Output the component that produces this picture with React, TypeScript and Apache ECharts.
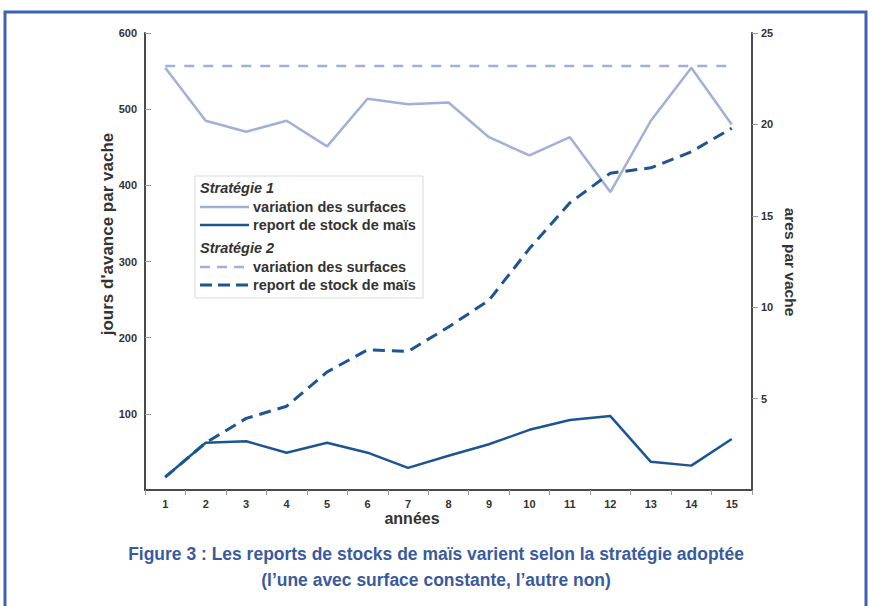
import React, { useEffect, useRef } from "react";
import * as echarts from "echarts";

const years = ["1", "2", "3", "4", "5", "6", "7", "8", "9", "10", "11", "12", "13", "14", "15"];
// ares par vache (right axis)
const strat1Surface = [23.1, 20.2, 19.6, 20.2, 18.8, 21.4, 21.1, 21.2, 19.3, 18.3, 19.3, 16.3, 20.2, 23.1, 20.0];
const strat2Surface = [23.2, 23.2, 23.2, 23.2, 23.2, 23.2, 23.2, 23.2, 23.2, 23.2, 23.2, 23.2, 23.2, 23.2, 23.2];
// jours d'avance par vache (left axis)
const strat1Stock = [17, 62, 64, 49, 62, 49, 29, 45, 60, 79, 92, 97, 37, 32, 67];
const strat2Stock = [17, 62, 94, 110, 155, 184, 182, 214, 249, 317, 377, 416, 423, 444, 475];

const LIGHT = "#a0b0d8";
const DARK = "#1d5592";
const AXIS = "#4a4a4a";
const TXT = "#333333";
const FONT = "'Liberation Sans', Arial, sans-serif";

export default function App() {
  const ref = useRef<HTMLDivElement>(null);
  useEffect(() => {
    document.body.style.margin = "0";
    const chart = echarts.init(ref.current!, undefined, { renderer: "svg" });
    const lf = `bold 14.5px ${FONT}`;
    const lfi = `italic bold 14.5px ${FONT}`;
    const legend = [
      { type: "rect", shape: { x: 195, y: 176, width: 228, height: 122 }, style: { fill: "#ffffff", stroke: "#d6d9e0", lineWidth: 1 }, z: 10 },
      { type: "text", x: 200, y: 188, style: { text: "Stratégie 1", font: lfi, fill: TXT, verticalAlign: "middle" }, z: 11 },
      { type: "line", shape: { x1: 200, y1: 207, x2: 249, y2: 207 }, style: { stroke: LIGHT, lineWidth: 2.5 }, z: 11 },
      { type: "text", x: 253, y: 207, style: { text: "variation des surfaces", font: lf, fill: TXT, verticalAlign: "middle" }, z: 11 },
      { type: "line", shape: { x1: 200, y1: 225, x2: 249, y2: 225 }, style: { stroke: DARK, lineWidth: 2.5 }, z: 11 },
      { type: "text", x: 253, y: 225, style: { text: "report de stock de maïs", font: lf, fill: TXT, verticalAlign: "middle" }, z: 11 },
      { type: "text", x: 200, y: 248, style: { text: "Stratégie 2", font: lfi, fill: TXT, verticalAlign: "middle" }, z: 11 },
      { type: "line", shape: { x1: 200, y1: 267, x2: 249, y2: 267 }, style: { stroke: LIGHT, lineWidth: 2.5, lineDash: [10, 7] }, z: 11 },
      { type: "text", x: 253, y: 267, style: { text: "variation des surfaces", font: lf, fill: TXT, verticalAlign: "middle" }, z: 11 },
      { type: "line", shape: { x1: 200, y1: 285, x2: 249, y2: 285 }, style: { stroke: DARK, lineWidth: 3, lineDash: [12, 6] }, z: 11 },
      { type: "text", x: 253, y: 285, style: { text: "report de stock de maïs", font: lf, fill: TXT, verticalAlign: "middle" }, z: 11 },
    ];
    chart.setOption({
      animation: false,
      backgroundColor: "#ffffff",
      grid: { left: 145, right: 120, top: 33, bottom: 116, containLabel: false },
      xAxis: {
        type: "category",
        data: years,
        boundaryGap: true,
        axisLine: { lineStyle: { color: AXIS, width: 2 } },
        axisTick: { show: true, length: 5, lineStyle: { color: "#999", width: 1 } },
        axisLabel: { color: TXT, fontSize: 11, fontWeight: "bold", fontFamily: FONT, margin: 8 },
        splitLine: { show: false },
      },
      yAxis: [
        {
          type: "value",
          min: 0,
          max: 600,
          interval: 100,
          position: "left",
          axisLine: { show: true, lineStyle: { color: AXIS, width: 2 } },
          axisTick: { show: true, inside: true, length: 6, lineStyle: { color: "#999" } },
          axisLabel: { color: TXT, fontSize: 11, fontWeight: "bold", fontFamily: FONT, margin: 8, showMinLabel: false },
          splitLine: { show: false },
        },
        {
          type: "value",
          min: 0,
          max: 25,
          interval: 5,
          position: "right",
          axisLine: { show: true, lineStyle: { color: AXIS, width: 2 } },
          axisTick: { show: true, length: 6, lineStyle: { color: "#999" } },
          axisLabel: { color: TXT, fontSize: 11, fontWeight: "bold", fontFamily: FONT, margin: 9, showMinLabel: false },
          splitLine: { show: false },
        },
      ],
      series: [
        {
          name: "Stratégie 2 - variation des surfaces",
          type: "line",
          yAxisIndex: 1,
          data: strat2Surface,
          symbol: "none",
          lineStyle: { color: LIGHT, width: 2.5, type: [10, 9] },
        },
        {
          name: "Stratégie 1 - variation des surfaces",
          type: "line",
          yAxisIndex: 1,
          data: strat1Surface,
          symbol: "none",
          lineStyle: { color: LIGHT, width: 2.5 },
        },
        {
          name: "Stratégie 2 - report de stock de maïs",
          type: "line",
          yAxisIndex: 0,
          data: strat2Stock,
          symbol: "none",
          lineStyle: { color: DARK, width: 3, type: [12, 7] },
        },
        {
          name: "Stratégie 1 - report de stock de maïs",
          type: "line",
          yAxisIndex: 0,
          data: strat1Stock,
          symbol: "none",
          lineStyle: { color: DARK, width: 2.5 },
        },
      ],
      graphic: [
        { type: "rect", shape: { x: 5, y: 12, width: 861, height: 610 }, style: { fill: "none", stroke: "#3d62b2", lineWidth: 3 }, z: 0 },
        { type: "text", x: 107, y: 234, rotation: Math.PI / 2, style: { text: "jours d'avance par vache", font: `bold 17px ${FONT}`, fill: TXT, align: "center", verticalAlign: "middle" } },
        { type: "text", x: 790, y: 262, rotation: -Math.PI / 2, style: { text: "ares par vache", font: `bold 15.5px ${FONT}`, fill: TXT, align: "center", verticalAlign: "middle" } },
        { type: "text", x: 412, y: 518, style: { text: "années", font: `bold 16px ${FONT}`, fill: TXT, align: "center", verticalAlign: "middle" } },
        { type: "text", x: 436, y: 553, scaleX: 0.92, style: { text: "Figure 3 : Les reports de stocks de maïs varient selon la stratégie adoptée", font: `bold 19px ${FONT}`, fill: "#3a5a9e", align: "center", verticalAlign: "middle" } },
        { type: "text", x: 436, y: 579, scaleX: 0.92, style: { text: "(l’une avec surface constante, l’autre non)", font: `bold 19px ${FONT}`, fill: "#3a5a9e", align: "center", verticalAlign: "middle" } },
        ...legend,
      ],
    });
    return () => chart.dispose();
  }, []);
  return <div ref={ref} style={{ position: "fixed", left: 0, top: 0, width: 872, height: 606 }} />;
}
